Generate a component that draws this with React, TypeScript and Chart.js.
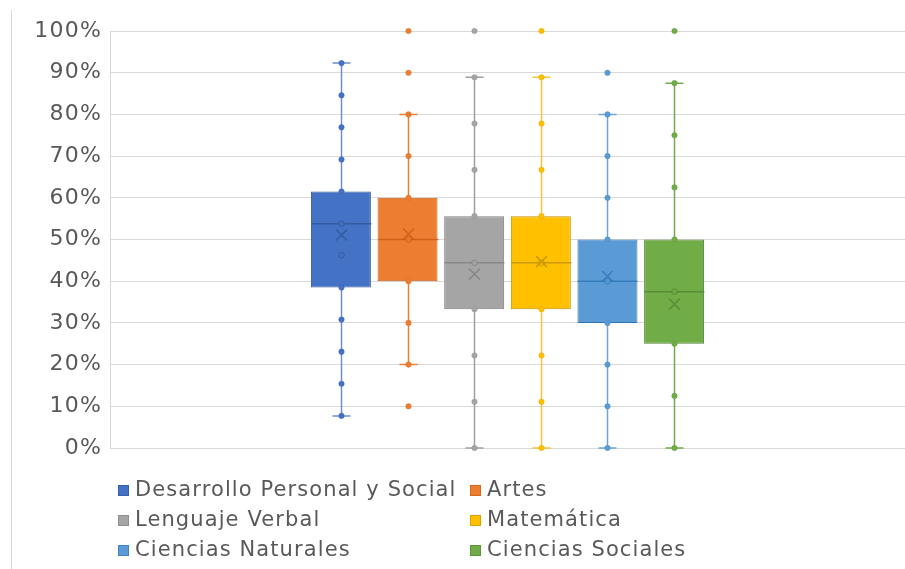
import React, { useEffect, useRef } from "react";
import { Chart, registerables } from "chart.js";

Chart.register(...registerables);

const seriesNames = [
  "Desarrollo Personal y Social",
  "Artes",
  "Lenguaje Verbal",
  "Matemática",
  "Ciencias Naturales",
  "Ciencias Sociales",
];

const colors = ["#4472C4", "#ED7D31", "#A5A5A5", "#FFC000", "#5B9BD5", "#70AD47"];
const darkColors = ["#2F5597", "#C55A11", "#7F7F7F", "#BF9000", "#2E75B6", "#548235"];
const whiskerColors = ["#6F8FD0", "#ED7D31", "#A0A0A0", "#F2C440", "#6FA5DA", "#70AD47"];

const q1 = [0.385, 0.4, 0.333, 0.333, 0.3, 0.25];
const median = [0.538, 0.5, 0.444, 0.444, 0.4, 0.375];
const q3 = [0.615, 0.6, 0.556, 0.556, 0.5, 0.5];
const mean = [0.511, 0.513, 0.417, 0.447, 0.412, 0.345];
const whiskerMin = [0.077, 0.2, 0, 0, 0, 0];
const whiskerMax = [0.923, 0.8, 0.889, 0.889, 0.8, 0.875];

const pointsDesarrollo = [0.077, 0.154, 0.231, 0.308, 0.385, 0.462, 0.538, 0.615, 0.692, 0.769, 0.846, 0.923];
const pointsArtes = [0.1, 0.2, 0.3, 0.4, 0.5, 0.6, 0.7, 0.8, 0.9, 1.0];
const pointsLenguaje = [0, 0.111, 0.222, 0.333, 0.444, 0.556, 0.667, 0.778, 0.889, 1.0];
const pointsMatematica = [0, 0.111, 0.222, 0.333, 0.444, 0.556, 0.667, 0.778, 0.889, 1.0];
const pointsNaturales = [0, 0.1, 0.2, 0.3, 0.4, 0.5, 0.6, 0.7, 0.8, 0.9];
const pointsSociales = [0, 0.125, 0.25, 0.375, 0.5, 0.625, 0.75, 0.875, 1.0];

const allPoints = [
  pointsDesarrollo,
  pointsArtes,
  pointsLenguaje,
  pointsMatematica,
  pointsNaturales,
  pointsSociales,
];

const yTicks = [0, 0.1, 0.2, 0.3, 0.4, 0.5, 0.6, 0.7, 0.8, 0.9, 1.0];

const FONT = "'DejaVu Sans', sans-serif";
const TEXT_COLOR = "#595959";
const GRID_COLOR = "#D9D9D9";

const boxPlugin = {
  id: "boxExtras",
  beforeDraw(chart: any) {
    const ctx = chart.ctx;
    ctx.save();
    ctx.strokeStyle = GRID_COLOR;
    ctx.lineWidth = 1;
    ctx.beginPath();
    ctx.moveTo(11.5, 10);
    ctx.lineTo(11.5, chart.height);
    ctx.stroke();
    ctx.restore();
    (ctx as any).letterSpacing = "1.2px";
  },
  beforeDatasetsDraw(chart: any) {
    const ctx = chart.ctx;
    const ys = chart.scales.y;
    ctx.save();
    seriesNames.forEach((_, i) => {
      const bar = chart.getDatasetMeta(i).data[0];
      if (!bar) return;
      const x = Math.round(bar.x) + 0.5;
      ctx.strokeStyle = whiskerColors[i];
      ctx.lineWidth = 1.5;
      ctx.beginPath();
      ctx.moveTo(x, ys.getPixelForValue(q3[i]));
      ctx.lineTo(x, ys.getPixelForValue(whiskerMax[i]));
      ctx.moveTo(x, ys.getPixelForValue(q1[i]));
      ctx.lineTo(x, ys.getPixelForValue(whiskerMin[i]));
      const capW = 9;
      const yMax = ys.getPixelForValue(whiskerMax[i]);
      const yMin = ys.getPixelForValue(whiskerMin[i]);
      ctx.moveTo(x - capW, yMax);
      ctx.lineTo(x + capW, yMax);
      ctx.moveTo(x - capW, yMin);
      ctx.lineTo(x + capW, yMin);
      ctx.stroke();
    });
    ctx.restore();
  },
  afterDatasetsDraw(chart: any) {
    const ctx = chart.ctx;
    const ys = chart.scales.y;
    ctx.save();
    seriesNames.forEach((_, i) => {
      const bar = chart.getDatasetMeta(i).data[0];
      if (!bar) return;
      const x = Math.round(bar.x) + 0.5;
      const half = bar.width / 2;
      // median
      const ym = ys.getPixelForValue(median[i]);
      ctx.strokeStyle = darkColors[i];
      ctx.globalAlpha = 0.8;
      ctx.lineWidth = 1.5;
      ctx.beginPath();
      ctx.moveTo(x - half, ym);
      ctx.lineTo(x + half, ym);
      ctx.stroke();
      // points
      allPoints[i].forEach((v) => {
        const py = ys.getPixelForValue(v);
        const inside = v > q1[i] + 0.001 && v < q3[i] - 0.001;
        ctx.beginPath();
        ctx.arc(x, py, 2.8, 0, Math.PI * 2);
        if (inside) {
          ctx.globalAlpha = 0.8;
          ctx.fillStyle = colors[i];
          ctx.fill();
          ctx.strokeStyle = darkColors[i];
          ctx.lineWidth = 1;
          ctx.stroke();
        } else {
          ctx.globalAlpha = 1;
          ctx.fillStyle = colors[i];
          ctx.fill();
          ctx.strokeStyle = darkColors[i];
          ctx.globalAlpha = 0.3;
          ctx.lineWidth = 0.8;
          ctx.stroke();
        }
      });
      // mean X
      const yMean = ys.getPixelForValue(mean[i]);
      const s = 5.5;
      ctx.globalAlpha = 0.75;
      ctx.strokeStyle = darkColors[i];
      ctx.lineWidth = 1.5;
      ctx.beginPath();
      ctx.moveTo(x - s, yMean - s);
      ctx.lineTo(x + s, yMean + s);
      ctx.moveTo(x + s, yMean - s);
      ctx.lineTo(x - s, yMean + s);
      ctx.stroke();
    });
    ctx.restore();
  },
  afterDraw(chart: any) {
    const ctx = chart.ctx;
    ctx.save();
    const colX = [118, 470];
    const rowY = [490, 520, 550];
    ctx.font = `21px ${FONT}`;
    (ctx as any).letterSpacing = "1.1px";
    ctx.textBaseline = "middle";
    ctx.textAlign = "left";
    seriesNames.forEach((name, i) => {
      const cx = colX[i % 2];
      const cy = rowY[Math.floor(i / 2)];
      ctx.fillStyle = colors[i];
      ctx.fillRect(cx, cy - 5, 11, 11);
      ctx.strokeStyle = darkColors[i];
      ctx.globalAlpha = 0.6;
      ctx.lineWidth = 1;
      ctx.strokeRect(cx + 0.5, cy - 4.5, 10, 10);
      ctx.globalAlpha = 1;
      ctx.fillStyle = TEXT_COLOR;
      ctx.fillText(name, cx + 17, cy + 1);
    });
    ctx.restore();
  },
};

export default function App() {
  const canvasRef = useRef<HTMLCanvasElement | null>(null);

  useEffect(() => {
    if (!canvasRef.current) return;
    const chart = new Chart(canvasRef.current, {
      type: "bar",
      data: {
        labels: [""],
        datasets: seriesNames.map((name, i) => ({
          label: name,
          data: [[q1[i], q3[i]]] as any,
          backgroundColor: colors[i],
          borderColor: darkColors[i],
          borderWidth: 1,
          borderSkipped: false,
          categoryPercentage: 0.503,
          barPercentage: 0.9,
        })),
      },
      options: {
        animation: false,
        responsive: true,
        maintainAspectRatio: false,
        layout: { padding: { top: 31, bottom: 121, left: 0, right: 0 } },
        plugins: {
          legend: { display: false },
          tooltip: { enabled: false },
        },
        scales: {
          x: {
            type: "category",
            display: false,
          },
          y: {
            min: 0,
            max: 1,
            afterBuildTicks(scale: any) {
              scale.ticks = yTicks.map((v) => ({ value: v }));
            },
            afterFit(scale: any) {
              scale.width = 110;
            },
            ticks: {
              padding: 8,
              color: TEXT_COLOR,
              font: { family: FONT, size: 22 },
              callback: (v: any) => Math.round(Number(v) * 100) + "%",
            },
            grid: {
              color: GRID_COLOR,
              drawTicks: false,
            },
            border: { color: GRID_COLOR },
          },
        },
      },
      plugins: [boxPlugin],
    });
    return () => chart.destroy();
  }, []);

  return (
    <div style={{ position: "absolute", left: 0, top: 0, width: 905, height: 569, background: "#fff" }}>
      <canvas ref={canvasRef} />
    </div>
  );
}
